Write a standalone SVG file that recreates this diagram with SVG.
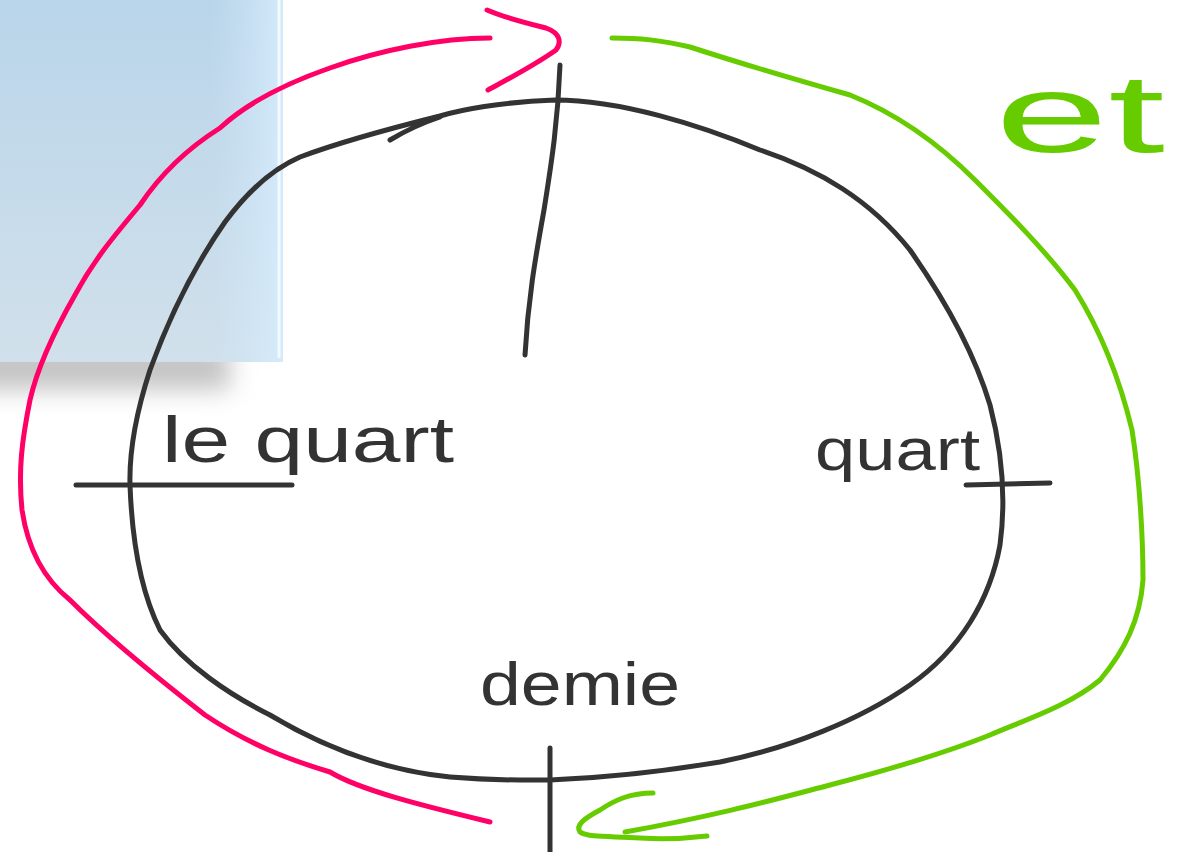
<svg xmlns="http://www.w3.org/2000/svg" width="1189" height="852" viewBox="0 0 1189 852">
<defs>
<linearGradient id="panelV" x1="0" y1="0" x2="0" y2="1">
<stop offset="0" stop-color="#b9d5ea"/>
<stop offset="1" stop-color="#d1e0eb"/>
</linearGradient>
<linearGradient id="panelH" x1="0" y1="0" x2="1" y2="0">
<stop offset="0.75" stop-color="#cfe6f8" stop-opacity="0"/>
<stop offset="1" stop-color="#d6ecfc" stop-opacity="0.9"/>
</linearGradient>
<filter id="blur" x="-50%" y="-100%" width="200%" height="300%">
<feGaussianBlur stdDeviation="12"/>
</filter>
<style>
.ink{fill:none;stroke:#333333;stroke-width:5;stroke-linecap:round;stroke-linejoin:round}
.pink{fill:none;stroke:#ff0066;stroke-width:5;stroke-linecap:round;stroke-linejoin:round}
.green{fill:none;stroke:#66cc00;stroke-width:5;stroke-linecap:round;stroke-linejoin:round}
.lbl{font-family:"Liberation Sans","DejaVu Sans",sans-serif;fill:#333333}
</style>
</defs>
<rect width="1189" height="852" fill="#ffffff"/>
<g id="panel">
<rect x="-30" y="345" width="260" height="45" fill="#c4c4c4" filter="url(#blur)"/>
<rect x="0" y="0" width="283" height="362" fill="url(#panelV)"/>
<rect x="0" y="0" width="283" height="362" fill="url(#panelH)"/>
<line x1="279" y1="0" x2="279" y2="358" stroke="#f2f9ff" stroke-width="3"/>
</g>
<g id="connectors">
<path id="loop" class="ink" d="M390,140 C410,128 425,122 440,117 M440,116 C400,126 340,142 300,157 C270,170 245,195 225,222 C195,265 170,315 150,370 C137,410 129,448 130,485 C132,540 140,590 160,630 C185,665 230,695 270,715 C320,745 380,770 450,777 C500,781 530,780 550,780 C600,778 660,772 720,762 C790,748 860,720 910,685 C960,650 990,600 1000,545 C1006,500 1003,455 990,405 C975,355 945,300 910,250 C870,200 820,170 760,150 C700,125 620,100 555,100 C500,102 460,110 440,116"/>
<path id="tick-top" class="ink" d="M560,65 C558,120 552,160 544,210 C535,260 528,300 525,355"/>
<path id="tick-left" class="ink" d="M76,485 L292,485"/>
<path id="tick-right" class="ink" d="M966,485 L1050,483"/>
<path id="tick-bottom" class="ink" d="M550,748 L550,852"/>
<path id="pink-arrow" class="pink" d="M490,38 C440,38 380,50 330,68 C290,82 250,100 220,128 C185,150 160,175 140,205 C115,235 95,258 75,295 C55,330 38,365 30,400 C22,440 18,470 22,510 C28,550 45,580 70,600 C110,640 160,680 205,715 C250,745 290,760 330,772 C360,790 420,805 490,822"/>
<path id="pink-head" class="pink" d="M487,10 C505,18 530,24 546,28 C560,33 562,42 556,50 C535,65 510,78 488,90"/>
<path id="green-arrow" class="green" d="M612,38 C640,38 660,40 690,47 C730,60 790,78 850,95 C900,115 940,145 975,180 C1010,215 1045,250 1075,290 C1100,330 1120,380 1132,430 C1140,480 1143,540 1143,580 C1140,620 1125,650 1100,680 C1070,705 1030,718 990,735 C940,755 880,772 830,785 C780,798 720,815 625,832"/>
<path id="green-head" class="green" d="M653,793 C630,793 615,800 600,810 C585,818 575,825 580,832 C590,838 610,836 640,838 C670,840 690,838 707,836"/>
</g>
<g id="label-le-quart"><text class="lbl" x="162" y="462" font-size="64" textLength="292" lengthAdjust="spacingAndGlyphs">le quart</text></g>
<g id="label-quart"><text class="lbl" x="815" y="470" font-size="60" textLength="165" lengthAdjust="spacingAndGlyphs">quart</text></g>
<g id="label-demie"><text class="lbl" x="480" y="705" font-size="62" textLength="200" lengthAdjust="spacingAndGlyphs">demie</text></g>
<g id="label-et"><text class="lbl" x="995" y="152" font-size="112" style="fill:#66cc00" textLength="170" lengthAdjust="spacingAndGlyphs">et</text></g>
</svg>
